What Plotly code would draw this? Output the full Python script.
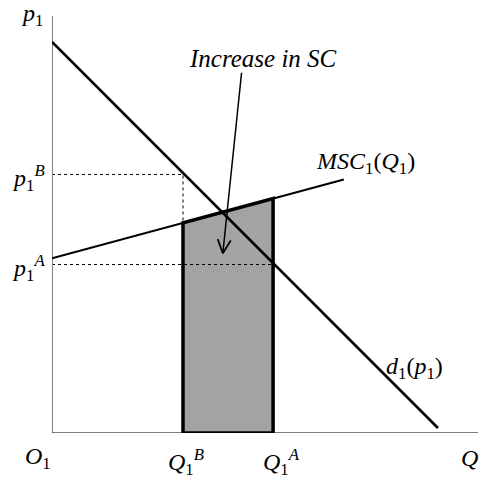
import numpy as np
import plotly.graph_objects as go

# Demand curve d1(p1) and marginal social cost MSC1(Q1), as line endpoints
demand_q = [0.0, 90.6]
demand_p = [93.8, 1.2]
msc_q = [0.0, 68.5]
msc_p = [41.9, 60.8]

# Quantities and prices at the two outcomes
q_levels = [30.75, 51.9]   # Q1^B, Q1^A
p_levels = [62.0, 40.4]    # p1^B, p1^A

# Arrow for the "Increase in SC" callout: tail and head
arrow_tail = [44.5, 86.4]
arrow_head = [40.1, 43.1]

X_RANGE = [0, 100]
Y_RANGE = [0, 100]
W, H = 481, 480
MARGIN = dict(l=52, r=3, t=16, b=47)
FONT = "Liberation Serif, Times New Roman, Times, serif"

# pixels per data unit, used to keep the arrowhead shape undistorted
sx = (W - MARGIN["l"] - MARGIN["r"]) / (X_RANGE[1] - X_RANGE[0])
sy = (H - MARGIN["t"] - MARGIN["b"]) / (Y_RANGE[1] - Y_RANGE[0])

fig = go.Figure()

# Shaded area under MSC between Q1^B and Q1^A
box_top = np.interp(q_levels, msc_q, msc_p)
fig.add_trace(go.Scatter(
    x=[q_levels[0], q_levels[0], q_levels[1], q_levels[1], q_levels[0]],
    y=[0, box_top[0], box_top[1], 0, 0],
    mode="lines", fill="toself", fillcolor="#a3a3a3",
    line=dict(color="black", width=3.5), hoverinfo="skip"))

# Dashed guides for p1^B / Q1^B and p1^A / Q1^A
fig.add_trace(go.Scatter(
    x=[0, q_levels[0], q_levels[0]], y=[p_levels[0], p_levels[0], box_top[0]],
    mode="lines", line=dict(color="black", width=1, dash="3px,3px"), hoverinfo="skip"))
fig.add_trace(go.Scatter(
    x=[0, q_levels[1]], y=[p_levels[1], p_levels[1]],
    mode="lines", line=dict(color="black", width=1, dash="3px,3px"), hoverinfo="skip"))

# Axes
fig.add_trace(go.Scatter(x=[0, 0], y=[0, 100], mode="lines",
                         line=dict(color="#808080", width=2), hoverinfo="skip"))
fig.add_trace(go.Scatter(x=[0, 100], y=[0, 0], mode="lines",
                         line=dict(color="black", width=1.2), hoverinfo="skip"))

# Demand and MSC lines
fig.add_trace(go.Scatter(x=demand_q, y=demand_p, mode="lines",
                         line=dict(color="black", width=2.6), hoverinfo="skip"))
fig.add_trace(go.Scatter(x=msc_q, y=msc_p, mode="lines",
                         line=dict(color="black", width=2), hoverinfo="skip"))

# Callout arrow: shaft plus an open V head
tail = np.array(arrow_tail)
head = np.array(arrow_head)
d_px = (head - tail) * np.array([sx, sy])
u = d_px / np.linalg.norm(d_px)
arm_len, ang = 15.0, np.deg2rad(26)
arms = []
for s in (1, -1):
    c, sn = np.cos(s * ang), np.sin(s * ang)
    back = -np.array([u[0] * c - u[1] * sn, u[0] * sn + u[1] * c]) * arm_len
    arms.append(head + back / np.array([sx, sy]))
fig.add_trace(go.Scatter(x=[tail[0], head[0]], y=[tail[1], head[1]], mode="lines",
                         line=dict(color="black", width=1.5), hoverinfo="skip"))
fig.add_trace(go.Scatter(x=[arms[0][0], head[0], arms[1][0]],
                         y=[arms[0][1], head[1], arms[1][1]], mode="lines",
                         line=dict(color="black", width=1.8), hoverinfo="skip"))


def to_paper(v, rng):
    return (v - rng[0]) / (rng[1] - rng[0])


def label(x, y, text, size=24):
    # placed in paper coordinates so labels outside the axis range stay visible
    fig.add_annotation(x=to_paper(x, X_RANGE), y=to_paper(y, Y_RANGE),
                       xref="paper", yref="paper", text=text, showarrow=False,
                       xanchor="center", yanchor="middle",
                       font=dict(family=FONT, size=size, color="black"))


label(-4.7, 100.2, "<i>p</i><sub>1</sub>")
label(-5.4, 61.2, "<i>p</i><sub>1</sub><sup><i>B</i></sup>")
label(-5.4, 39.6, "<i>p</i><sub>1</sub><sup><i>A</i></sup>")
label(-3.3, -6.0, "<i>O</i><sub>1</sub>")
label(31.5, -6.95, "<i>Q</i><sub>1</sub><sup><i>B</i></sup>")
label(53.8, -6.95, "<i>Q</i><sub>1</sub><sup><i>A</i></sup>")
label(98.1, -6.0, "<i>Q</i>")
label(73.7, 64.7, "<i>MSC</i><sub>1</sub>(<i>Q</i><sub>1</sub>)")
label(85.2, 15.6, "<i>d</i><sub>1</sub>(<i>p</i><sub>1</sub>)")
label(49.5, 89.9, "<i>Increase in SC</i>", size=25)

fig.update_layout(
    width=W, height=H, showlegend=False,
    margin=MARGIN,
    paper_bgcolor="white", plot_bgcolor="white",
    xaxis=dict(range=X_RANGE, visible=False, fixedrange=True),
    yaxis=dict(range=Y_RANGE, visible=False, fixedrange=True),
)
fig.update_traces(cliponaxis=False)

fig.write_html("out.html")
